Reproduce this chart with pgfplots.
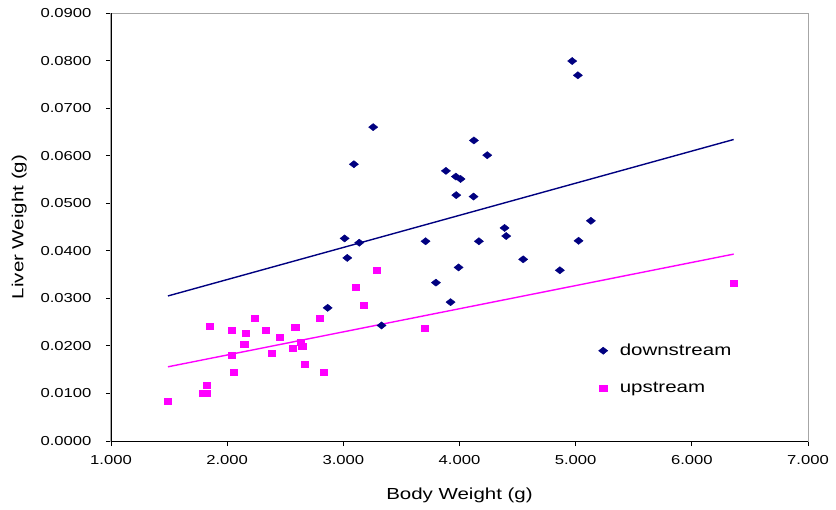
\documentclass[border=0pt]{standalone}
\usepackage{fontspec}
\setmainfont[FakeStretch=1.28]{Liberation Sans}
\usepackage{pgfplots}
\pgfplotsset{compat=1.18}
\definecolor{navyc}{RGB}{0,0,128}
\definecolor{magc}{RGB}{255,0,255}
\begin{document}
\begin{tikzpicture}
\useasboundingbox (-111bp,-69bp) rectangle (725bp,441bp);
\begin{axis}[
  name=ax,
  at={(0,0)}, anchor=south west,
  scale only axis, width=697bp, height=428bp,
  xmin=1, xmax=7, ymin=0, ymax=0.09,
  xtick={1,2,3,4,5,6,7},
  ytick={0,0.01,0.02,0.03,0.04,0.05,0.06,0.07,0.08,0.09},
  scaled y ticks=false, scaled x ticks=false,
  xticklabel style={/pgf/number format/fixed, /pgf/number format/fixed zerofill, /pgf/number format/precision=3, /pgf/number format/assume math mode=true, yshift=-6bp},
  yticklabel style={/pgf/number format/fixed, /pgf/number format/fixed zerofill, /pgf/number format/precision=4, /pgf/number format/assume math mode=true, xshift=-11bp},
  ticklabel style={font=\fontsize{13bp}{15bp}\selectfont},
  tick align=outside, major tick length=5bp,
  xtick pos=left, ytick pos=left,
  tick style={black, line width=0.8bp},
  axis line style={draw=gray!70, line width=1bp},
  xlabel={Body Weight (g)}, ylabel={Liver Weight (g)},
  label style={font=\fontsize{16bp}{18bp}\selectfont},
  xlabel style={yshift=-16bp},
  ylabel style={yshift=7bp},
  legend style={draw=none, fill=none, at={(rel axis cs:0.695,0.236)}, anchor=north west,
    font=\fontsize{16bp}{18bp}\selectfont, row sep=21bp, column sep=10bp},
  legend cell align=left,
]
\addplot[only marks, mark=diamond*, mark size=3.6bp, mark options={draw=navyc, fill=navyc, xscale=1.7}] coordinates {
(3.257,0.0660)(3.091,0.0582)(4.124,0.0632)(4.239,0.0601)(3.883,0.0568)
(3.969,0.0556)(4.009,0.0551)(3.972,0.0517)(4.121,0.0514)(4.388,0.0448)
(4.402,0.0431)(3.011,0.0426)(3.137,0.0417)(3.708,0.0420)(4.167,0.0420)
(4.970,0.0799)(5.019,0.0769)(5.131,0.0463)(5.025,0.0421)(3.034,0.0385)
(2.865,0.0280)(3.329,0.0243)(3.797,0.0333)(3.992,0.0365)(3.923,0.0292)
(4.548,0.0382)(4.864,0.0359)
};
\addlegendentry{downstream}
\addplot[only marks, mark=square*, mark size=3bp, mark options={draw=magc, fill=magc, xscale=1.2}] coordinates {
(1.491,0.0084)(1.786,0.0100)(1.826,0.0100)(1.823,0.0117)(1.849,0.0242)
(2.041,0.0234)(2.036,0.0181)(2.058,0.0145)(2.162,0.0227)(2.147,0.0203)
(2.237,0.0259)(2.334,0.0234)(2.383,0.0185)(2.454,0.0218)(2.586,0.0240)
(2.566,0.0196)(2.636,0.0207)(2.646,0.0199)(2.667,0.0161)(2.796,0.0259)
(2.830,0.0145)(3.106,0.0323)(3.289,0.0359)(3.175,0.0286)(3.702,0.0237)
(6.359,0.0331)
};
\addlegendentry{upstream}
\addplot[navyc, line width=1.4bp, forget plot] coordinates {(1.49,0.0305)(6.36,0.0634)};
\addplot[magc, line width=1.4bp, forget plot] coordinates {(1.49,0.0156)(6.36,0.0393)};
\end{axis}
\draw[black, line width=1bp] (ax.north west) -- (ax.south west) -- (ax.south east);
\end{tikzpicture}
\end{document}
